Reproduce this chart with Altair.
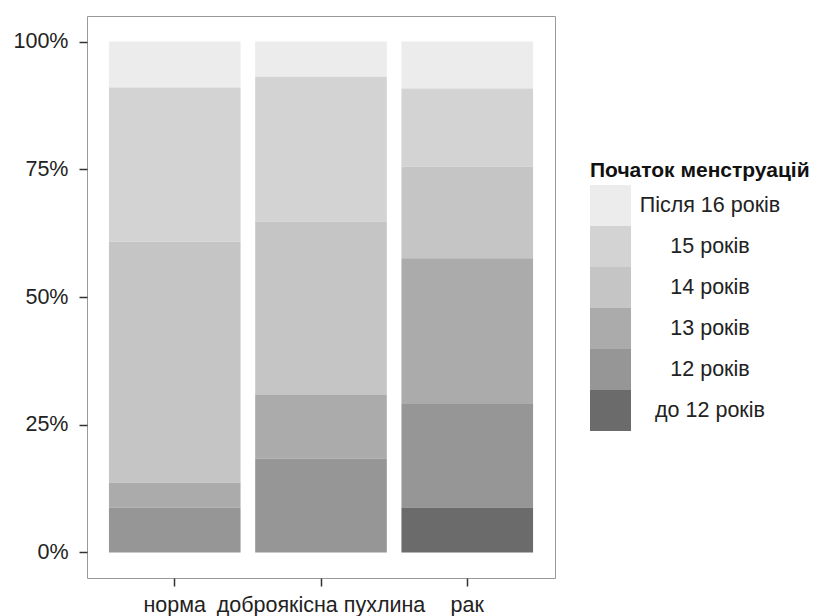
import altair as alt
import pandas as pd

categories = ["норма", "доброякісна пухлина", "рак"]
levels = ["Після 16 років", "15 років", "14 років", "13 років", "12 років", "до 12 років"]
colors = ["#ececec", "#d3d3d3", "#c5c5c5", "#ababab", "#969696", "#6b6b6b"]

# percentages per category, in order of `levels`
norma = [9.0, 30.2, 47.1, 4.9, 8.8, 0.0]
dobro = [6.9, 28.3, 34.0, 12.4, 18.4, 0.0]
rak = [9.2, 15.3, 17.9, 28.4, 20.4, 8.8]

rows = []
for cat, vals in zip(categories, [norma, dobro, rak]):
    for i, (lev, v) in enumerate(zip(levels, vals)):
        rows.append({"cat": cat, "level": lev, "value": v, "rank": len(levels) - i})
df = pd.DataFrame(rows)

FONT = "Liberation Sans"

chart = alt.Chart(df).mark_bar(strokeWidth=0).encode(
    x=alt.X("cat:N", sort=categories, title=None,
            scale=alt.Scale(paddingInner=0.1, paddingOuter=0.15),
            axis=alt.Axis(labelAngle=0, tickSize=8, tickWidth=1.5, tickColor="#333",
                          labelPadding=8, labelFontSize=21.5, labelColor="#222",
                          labelFont=FONT, domain=False, labelOverlap=False,
                          labelLimit=400)),
    y=alt.Y("value:Q", stack="normalize", title=None,
            scale=alt.Scale(domain=[-0.05, 1.05], nice=False, zero=False),
            axis=alt.Axis(values=[0, 0.25, 0.5, 0.75, 1], format=".0%", tickSize=8,
                          tickWidth=1.5, tickColor="#333", labelPadding=11,
                          labelFontSize=21.5, labelColor="#222", labelFont=FONT,
                          domain=False, grid=False)),
    color=alt.Color("level:N", scale=alt.Scale(domain=levels, range=colors),
                    legend=alt.Legend(orient="none", legendX=503, legendY=144,
                                      title="Початок менструацій", titleFontSize=21,
                                      titleFont=FONT, titleFontWeight="bold",
                                      titleColor="#111", titleLimit=400, titlePadding=4,
                                      labelFontSize=21.5, labelFont=FONT, labelColor="#222",
                                      labelAlign="center", labelOffset=79, labelLimit=300,
                                      symbolType="square", symbolSize=1681,
                                      symbolStrokeWidth=0, symbolOpacity=1, rowPadding=0)),
    order=alt.Order("rank:Q", sort="ascending"),
).properties(
    width=468, height=562,
    autosize=alt.AutoSizeParams(type="none"),
    padding={"left": 79, "top": 8, "right": 266, "bottom": 42},
).configure_view(
    stroke="#999999", strokeWidth=1
).configure_axis(grid=False)

chart.save("out.html", embed_options={"renderer": "svg", "actions": False})
